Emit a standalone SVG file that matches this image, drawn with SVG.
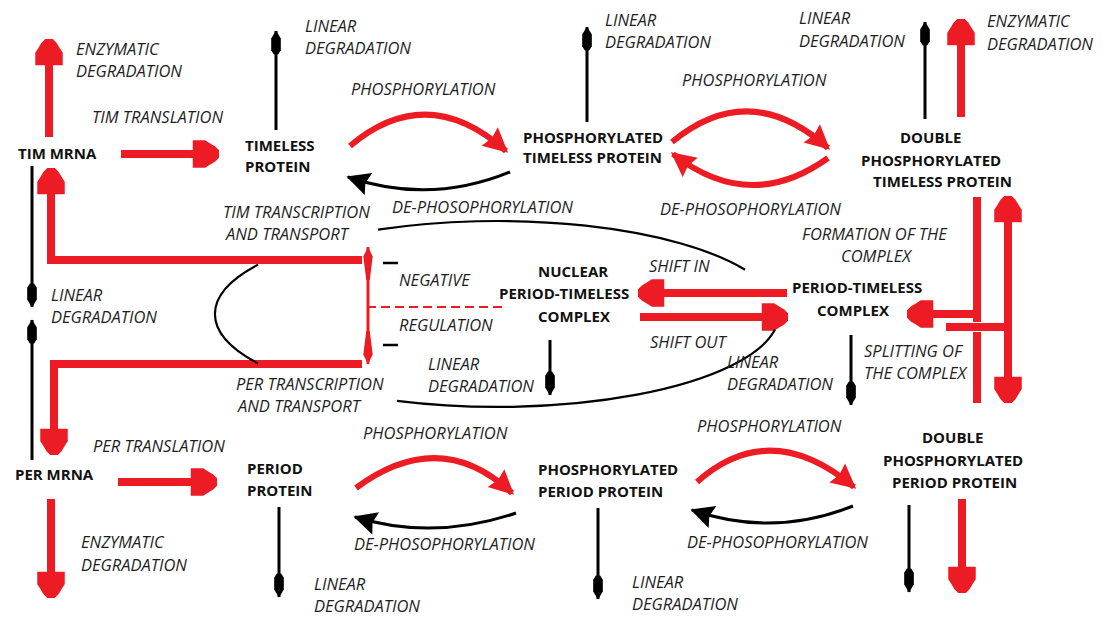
<svg xmlns="http://www.w3.org/2000/svg" width="1109" height="620" viewBox="0 0 1109 620">
<style>
.lbl{font-family:"Open Sans","Liberation Sans",sans-serif;font-style:italic;font-size:16.5px;fill:#1e1e1e}
.nd{font-family:"Open Sans","Liberation Sans",sans-serif;font-weight:bold;font-size:15px;fill:#111}
.rt{fill:none;stroke:#ED1C24;stroke-width:8;stroke-linejoin:miter}
.rc{fill:none;stroke:#ED1C24;stroke-width:6}
.bk{fill:none;stroke:#000;stroke-width:3}
.el{fill:none;stroke:#000;stroke-width:2.2}
</style>
<defs>
<marker id="rh" markerUnits="userSpaceOnUse" orient="auto" refX="0" refY="0" markerWidth="40" markerHeight="40" viewBox="-30 -15 32 30" overflow="visible">
<path d="M0,-3 L-3,-6 L-8,-9 L-11,-11 L-21,-11 L-21,11 L-11,11 L-8,9 L-3,6 L0,3 Z" fill="#ED1C24"/>
</marker>
<marker id="rhS" markerUnits="userSpaceOnUse" orient="auto-start-reverse" refX="0" refY="0" markerWidth="40" markerHeight="40" viewBox="-30 -15 32 30" overflow="visible">
<path d="M0,-3 L-3,-6 L-8,-9 L-11,-11 L-21,-11 L-21,11 L-11,11 L-8,9 L-3,6 L0,3 Z" fill="#ED1C24"/>
</marker>
<marker id="bh" markerUnits="userSpaceOnUse" orient="auto" refX="0" refY="0" markerWidth="30" markerHeight="30" viewBox="-26 -8 28 16" overflow="visible">
<path d="M0.5,0 L-7,-4.5 L-18,-4.5 L-22,-2 L-22,2 L-18,4.5 L-7,4.5 Z" fill="#000"/>
</marker>
<marker id="rtri" markerUnits="userSpaceOnUse" orient="auto" refX="0" refY="0" markerWidth="30" markerHeight="30" viewBox="-20 -10 22 20" overflow="visible">
<path d="M2,0 L-16,-9 L-14,0 L-16,9 Z" fill="#ED1C24"/>
</marker>
<marker id="btri" markerUnits="userSpaceOnUse" orient="auto" refX="0" refY="0" markerWidth="30" markerHeight="30" viewBox="-16 -8 18 16" overflow="visible">
<path d="M1,0 L-13,-7 L-11,0 L-13,7 Z" fill="#000"/>
</marker>
<marker id="rthin" markerUnits="userSpaceOnUse" orient="auto" refX="0" refY="0" markerWidth="40" markerHeight="20" viewBox="-32 -6 34 12" overflow="visible">
<path d="M0,0 L-8,-4 L-28,-1.5 L-28,1.5 L-8,4 Z" fill="#ED1C24"/>
</marker>
<marker id="rthinS" markerUnits="userSpaceOnUse" orient="auto-start-reverse" refX="0" refY="0" markerWidth="40" markerHeight="20" viewBox="-32 -6 34 12" overflow="visible">
<path d="M0,0 L-8,-4 L-28,-1.5 L-28,1.5 L-8,4 Z" fill="#ED1C24"/>
</marker>
</defs>
<rect width="1109" height="620" fill="#fff"/>

<g id="connectors">
<path class="rt" d="M49,137 L49,39" marker-end="url(#rh)"/>
<path class="rt" d="M121,154 L219,154" marker-end="url(#rh)"/>
<path class="rt" d="M961,117 L961,19" marker-end="url(#rh)"/>
<path class="rt" d="M362,260 H51 V168" marker-end="url(#rh)"/>
<path class="rt" d="M362,364 H54 V455" marker-end="url(#rh)"/>
<path class="rt" d="M118,482 L217,482" marker-end="url(#rh)"/>
<path class="rt" d="M51,499 L51,598" marker-end="url(#rh)"/>
<path class="rt" d="M962,499 L962,593" marker-end="url(#rh)"/>
<path class="rt" d="M787,293 L638,293" marker-end="url(#rh)"/>
<path class="rt" d="M640,317 L788,317" marker-end="url(#rh)"/>
<path class="rt" d="M977,197 V322"/>
<path class="rt" d="M977,314 H907" marker-end="url(#rh)"/>
<path class="rt" d="M977,332 V403"/>
<path class="rt" d="M946,327 H1008"/>
<path class="rt" d="M1008,196 V403" marker-start="url(#rhS)" marker-end="url(#rh)"/>
<path class="rc" d="M350,146 Q427,81 506,151" marker-end="url(#rtri)"/>
<path class="rc" d="M672,142 Q750,78 828,148" marker-end="url(#rtri)"/>
<path class="rc" d="M828,158 Q750,214 673,154" marker-end="url(#rtri)"/>
<path class="rc" d="M356,488 Q440,426 512,493" marker-end="url(#rtri)"/>
<path class="rc" d="M697,482 Q770,417 854,487" marker-end="url(#rtri)"/>
<path class="bk" d="M510,172 Q430,205 348,177" marker-end="url(#btri)"/>
<path class="bk" d="M516,513 Q433,541 355,517" marker-end="url(#btri)"/>
<path class="bk" d="M853,506 Q773,538 692,510" marker-end="url(#btri)"/>
<path class="bk" d="M276,130 L276,31" marker-end="url(#bh)"/>
<path class="bk" d="M587,122 L587,27" marker-end="url(#bh)"/>
<path class="bk" d="M925,119 L925,22" marker-end="url(#bh)"/>
<path class="bk" d="M32,166 L32,307" marker-end="url(#bh)"/>
<path class="bk" d="M32,460 L32,320" marker-end="url(#bh)"/>
<path class="bk" d="M550,340 L550,395" marker-end="url(#bh)"/>
<path class="bk" d="M851,335 L851,405" marker-end="url(#bh)"/>
<path class="bk" d="M279,507 L279,597" marker-end="url(#bh)"/>
<path class="bk" d="M598,508 L598,599" marker-end="url(#bh)"/>
<path class="bk" d="M909,505 L909,592" marker-end="url(#bh)"/>
<path class="el" d="M258,264.6 A282,93 0 0,0 258,363.4"/>
<path class="el" d="M378,229.7 A282,93 0 0,1 745,269.7"/>
<path class="el" d="M397,400.9 A282,93 0 0,0 775,329.6"/>
<path d="M368,247 L368,364" fill="none" stroke="#ED1C24" stroke-width="3" marker-start="url(#rthinS)" marker-end="url(#rthin)"/>
<path d="M367,307 L503,307" fill="none" stroke="#ED1C24" stroke-width="2" stroke-dasharray="9,5"/>
<path d="M383,263 H398 M383,345 H398" fill="none" stroke="#000" stroke-width="2.5"/>
</g>

<g id="tim-mrna"><text class="nd" x="18" y="159">TIM MRNA</text></g>
<g id="timeless-protein"><text class="nd" x="245" y="151">TIMELESS</text><text class="nd" x="245" y="172">PROTEIN</text></g>
<g id="phosphorylated-timeless"><text class="nd" x="523" y="143">PHOSPHORYLATED</text><text class="nd" x="523" y="163">TIMELESS PROTEIN</text></g>
<g id="double-phosphorylated-timeless"><text class="nd" x="900" y="143">DOUBLE</text><text class="nd" x="861" y="166">PHOSPHORYLATED</text><text class="nd" x="873" y="187">TIMELESS PROTEIN</text></g>
<g id="nuclear-complex"><text class="nd" x="538" y="277">NUCLEAR</text><text class="nd" x="499" y="299">PERIOD-TIMELESS</text><text class="nd" x="538" y="322">COMPLEX</text></g>
<g id="period-timeless-complex"><text class="nd" x="792" y="293">PERIOD-TIMELESS</text><text class="nd" x="817" y="316">COMPLEX</text></g>
<g id="per-mrna"><text class="nd" x="15" y="480">PER MRNA</text></g>
<g id="period-protein"><text class="nd" x="247" y="474">PERIOD</text><text class="nd" x="247" y="496">PROTEIN</text></g>
<g id="phosphorylated-period"><text class="nd" x="538" y="475">PHOSPHORYLATED</text><text class="nd" x="538" y="497">PERIOD PROTEIN</text></g>
<g id="double-phosphorylated-period"><text class="nd" x="922" y="443">DOUBLE</text><text class="nd" x="883" y="466">PHOSPHORYLATED</text><text class="nd" x="892" y="488">PERIOD PROTEIN</text></g>

<g id="labels">
<text class="lbl" x="76" y="55">ENZYMATIC</text><text class="lbl" x="76" y="77">DEGRADATION</text>
<text class="lbl" x="92" y="123">TIM TRANSLATION</text>
<text class="lbl" x="305" y="32">LINEAR</text><text class="lbl" x="305" y="54">DEGRADATION</text>
<text class="lbl" x="351" y="95">PHOSPHORYLATION</text>
<text class="lbl" x="605" y="26">LINEAR</text><text class="lbl" x="605" y="48">DEGRADATION</text>
<text class="lbl" x="682" y="86">PHOSPHORYLATION</text>
<text class="lbl" x="799" y="24">LINEAR</text><text class="lbl" x="799" y="47">DEGRADATION</text>
<text class="lbl" x="987" y="27">ENZYMATIC</text><text class="lbl" x="987" y="50">DEGRADATION</text>
<text class="lbl" x="392" y="213">DE-PHOSOPHORYLATION</text>
<text class="lbl" x="660" y="215">DE-PHOSOPHORYLATION</text>
<text class="lbl" x="223" y="218">TIM TRANSCRIPTION</text><text class="lbl" x="226" y="240">AND TRANSPORT</text>
<text class="lbl" x="802" y="240">FORMATION OF THE</text><text class="lbl" x="841" y="262">COMPLEX</text>
<text class="lbl" x="51" y="301">LINEAR</text><text class="lbl" x="51" y="323">DEGRADATION</text>
<text class="lbl" x="399" y="286">NEGATIVE</text>
<text class="lbl" x="399" y="331">REGULATION</text>
<text class="lbl" x="649" y="272">SHIFT IN</text>
<text class="lbl" x="650" y="348">SHIFT OUT</text>
<text class="lbl" x="236" y="390">PER TRANSCRIPTION</text><text class="lbl" x="238" y="412">AND TRANSPORT</text>
<text class="lbl" x="428" y="370">LINEAR</text><text class="lbl" x="428" y="392">DEGRADATION</text>
<text class="lbl" x="727" y="368">LINEAR</text><text class="lbl" x="727" y="390">DEGRADATION</text>
<text class="lbl" x="864" y="357">SPLITTING OF</text><text class="lbl" x="864" y="379">THE COMPLEX</text>
<text class="lbl" x="93" y="452">PER TRANSLATION</text>
<text class="lbl" x="363" y="439">PHOSPHORYLATION</text>
<text class="lbl" x="697" y="432">PHOSPHORYLATION</text>
<text class="lbl" x="81" y="548">ENZYMATIC</text><text class="lbl" x="81" y="571">DEGRADATION</text>
<text class="lbl" x="354" y="550">DE-PHOSOPHORYLATION</text>
<text class="lbl" x="687" y="548">DE-PHOSOPHORYLATION</text>
<text class="lbl" x="314" y="590">LINEAR</text><text class="lbl" x="314" y="612">DEGRADATION</text>
<text class="lbl" x="632" y="588">LINEAR</text><text class="lbl" x="632" y="610">DEGRADATION</text>
</g>
</svg>
